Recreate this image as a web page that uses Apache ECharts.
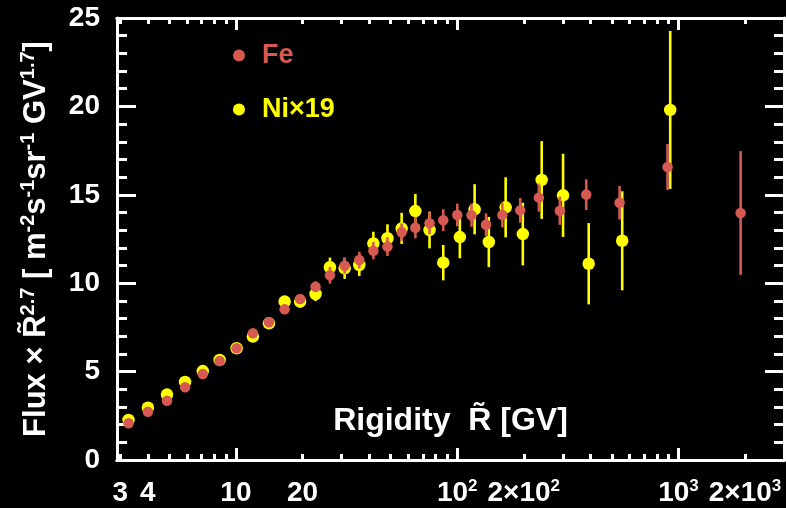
<!DOCTYPE html>
<html>
<head>
<meta charset="utf-8">
<script src="https://cdn.jsdelivr.net/npm/echarts@6/dist/echarts.min.js"></script>
<style>
html,body{margin:0;padding:0;background:#000;}
#chart{width:786px;height:508px;}
</style>
</head>
<body>
<div id="chart"></div>
<script>
// ---- data ----
const feR    = [3.27, 4.0, 4.88, 5.89, 7.08, 8.44, 10.07, 11.93, 14.1, 16.6, 19.5, 22.9, 26.6, 31.0, 36.1, 41.8, 48.4, 56.1, 64.7, 75.0, 86.5, 100.1, 116.1, 135, 160, 192.7, 234, 291, 383, 542, 893, 1910];
const feFlux = [2.08, 2.73, 3.35, 4.11, 4.86, 5.60, 6.32, 7.17, 7.79, 8.52, 9.11, 9.80, 10.45, 10.99, 11.31, 11.84, 12.07, 12.88, 13.14, 13.39, 13.56, 13.86, 13.84, 13.31, 13.86, 14.12, 14.84, 14.10, 15.01, 14.55, 16.57, 13.97];
const feErr  = [0.05, 0.05, 0.06, 0.07, 0.08, 0.10, 0.10, 0.12, 0.15, 0.20, 0.25, 0.30, 0.47, 0.45, 0.47, 0.49, 0.53, 0.50, 0.60, 0.62, 0.62, 0.64, 0.65, 0.64, 0.70, 0.70, 0.80, 0.80, 0.87, 0.95, 1.30, 3.50];

const niR    = [3.27, 4.0, 4.88, 5.89, 7.08, 8.44, 10.07, 11.93, 14.1, 16.6, 19.5, 22.9, 26.6, 31.0, 36.1, 41.8, 48.4, 56.1, 64.7, 75.0, 86.5, 102.8, 119.9, 139, 165.6, 198, 241, 301, 393, 557, 918];
const niFlux = [2.26, 2.96, 3.70, 4.41, 5.03, 5.66, 6.32, 6.98, 7.73, 8.96, 8.96, 9.39, 10.90, 10.84, 11.03, 12.25, 12.54, 13.10, 14.08, 13.01, 11.16, 12.61, 14.18, 12.33, 14.29, 12.78, 15.84, 14.97, 11.10, 12.40, 19.80];
const niErr  = [0.08, 0.08, 0.10, 0.10, 0.10, 0.12, 0.13, 0.15, 0.20, 0.30, 0.35, 0.40, 0.55, 0.60, 0.62, 0.66, 0.79, 0.88, 0.97, 1.04, 1.00, 1.20, 1.42, 1.42, 1.70, 1.77, 2.20, 2.35, 2.30, 2.80, 4.47];

const xMajorTicks = [10, 100, 1000];
const xMinorTicks = [3, 4, 5, 6, 7, 8, 9, 20, 30, 40, 50, 60, 70, 80, 90, 200, 300, 400, 500, 600, 700, 800, 900, 2000];
const xLabelValues = [3, 4, 10, 20, 100, 200, 1000, 2000];
const xLabelTexts  = ['3', '4', '10', '20', '10{sup|2}', '2×10{sup|2}', '10{sup|3}', '2×10{sup|3}'];

const feName = 'Fe';
const niName = 'Ni×19';
const feColor = '#d65a52';
const niColor = '#ffff00';

// ---- chart ----
const FONT = 'Liberation Sans, Arial, Helvetica, sans-serif';
const zip = (a, b, c) => a.map((v, i) => c ? [v, b[i], c[i]] : [v, b[i]]);

function errBar(color) {
  return function (params, api) {
    const x = api.value(0), y = api.value(1), e = api.value(2);
    const p1 = api.coord([x, y - e]);
    const p2 = api.coord([x, y + e]);
    return {
      type: 'line',
      shape: { x1: p1[0], y1: p1[1], x2: p2[0], y2: p2[1] },
      style: { stroke: color, lineWidth: 2.6 }
    };
  };
}

const white = '#ffffff';
const xBase = {
  type: 'log', logBase: 10, min: 2.9, max: 3000,
  splitLine: { show: false },
  axisLine: { show: true, lineStyle: { color: white, width: 3 } }
};

function labelFmt(v) {
  const i = xLabelValues.findIndex(t => Math.abs(t - v) / t < 1e-6);
  return i >= 0 ? xLabelTexts[i] : '';
}

const option = {
  backgroundColor: '#000000',
  animation: false,
  textStyle: { fontFamily: FONT },
  grid: { left: 117, right: 2, top: 18, bottom: 48, containLabel: false },
  legend: {
    orient: 'vertical', left: 228, top: 37, itemGap: 27,
    itemWidth: 12, itemHeight: 12, icon: 'circle',
    textStyle: { fontFamily: FONT, fontSize: 27, fontWeight: 'bold', padding: [0, 0, 0, 12] },
    data: [
      { name: feName, itemStyle: { color: feColor }, textStyle: { color: feColor } },
      { name: niName, itemStyle: { color: niColor }, textStyle: { color: niColor } }
    ]
  },
  xAxis: [
    Object.assign({}, xBase, {
      position: 'bottom',
      axisTick: { show: true, inside: true, length: 12, customValues: xMajorTicks, lineStyle: { color: white, width: 3 } },
      axisLabel: {
        show: true, customValues: xLabelValues, formatter: labelFmt,
        color: white, fontFamily: FONT, fontSize: 28, fontWeight: 'bold', margin: 18, lineHeight: 30,
        rich: { sup: { fontSize: 17, fontWeight: 'bold', color: white, fontFamily: FONT, verticalAlign: 'top', lineHeight: 17 } }
      },
      name: 'Rigidity  R\u0303 [GV]', nameLocation: 'middle', nameGap: -55,
      nameTextStyle: { color: white, fontFamily: FONT, fontSize: 32, fontWeight: 'bold' }
    }),
    Object.assign({}, xBase, {
      position: 'bottom',
      axisTick: { show: true, inside: true, length: 6, customValues: xMinorTicks, lineStyle: { color: white, width: 3 } },
      axisLabel: { show: false }
    }),
    Object.assign({}, xBase, {
      position: 'top',
      axisTick: { show: true, inside: true, length: 12, customValues: xMajorTicks, lineStyle: { color: white, width: 3 } },
      axisLabel: { show: false }
    }),
    Object.assign({}, xBase, {
      position: 'top',
      axisTick: { show: true, inside: true, length: 6, customValues: xMinorTicks, lineStyle: { color: white, width: 3 } },
      axisLabel: { show: false }
    })
  ],
  yAxis: [
    {
      type: 'value', position: 'left', min: 0, max: 25, interval: 5,
      splitLine: { show: false },
      axisLine: { show: true, lineStyle: { color: white, width: 3 } },
      axisTick: { show: true, inside: true, length: 19, lineStyle: { color: white, width: 3 } },
      minorTick: { show: true, splitNumber: 5, length: 10, lineStyle: { color: white, width: 3 } },
      axisLabel: { color: white, fontFamily: FONT, fontSize: 28, fontWeight: 'bold', margin: 17 },
      name: 'Flux × R\u0303{sup|2.7} [ m{sup|-2}s{sup|-1}sr{sup|-1} GV{sup|1.7}]',
      nameLocation: 'middle', nameGap: 63, nameRotate: 90,
      nameTextStyle: {
        color: white, fontFamily: FONT, fontSize: 31, fontWeight: 'bold', lineHeight: 36,
        rich: { sup: { fontSize: 20, fontWeight: 'bold', color: white, fontFamily: FONT, verticalAlign: 'top', lineHeight: 20 } }
      }
    },
    {
      type: 'value', position: 'right', min: 0, max: 25, interval: 5,
      splitLine: { show: false },
      axisLine: { show: true, lineStyle: { color: white, width: 3 } },
      axisTick: { show: true, inside: true, length: 19, lineStyle: { color: white, width: 3 } },
      minorTick: { show: true, splitNumber: 5, length: 10, lineStyle: { color: white, width: 3 } },
      axisLabel: { show: false }
    }
  ],
  series: [
    {
      name: niName, type: 'custom', xAxisIndex: 0, yAxisIndex: 0,
      renderItem: errBar(niColor), data: zip(niR, niFlux, niErr),
      itemStyle: { color: niColor },
      encode: { x: 0, y: 1 }, z: 2, silent: true, clip: true
    },
    {
      name: niName, type: 'scatter', xAxisIndex: 0, yAxisIndex: 0,
      symbol: 'circle', symbolSize: 12.5, itemStyle: { color: niColor, opacity: 1 },
      data: zip(niR, niFlux), z: 3
    },
    {
      name: feName, type: 'custom', xAxisIndex: 0, yAxisIndex: 0,
      renderItem: errBar(feColor), data: zip(feR, feFlux, feErr),
      itemStyle: { color: feColor },
      encode: { x: 0, y: 1 }, z: 4, silent: true, clip: true
    },
    {
      name: feName, type: 'scatter', xAxisIndex: 0, yAxisIndex: 0,
      symbol: 'circle', symbolSize: 10.5, itemStyle: { color: feColor, opacity: 1 },
      data: zip(feR, feFlux), z: 5
    }
  ]
};

const chart = echarts.init(document.getElementById('chart'), null, { renderer: 'canvas' });
chart.setOption(option);
</script>
</body>
</html>
